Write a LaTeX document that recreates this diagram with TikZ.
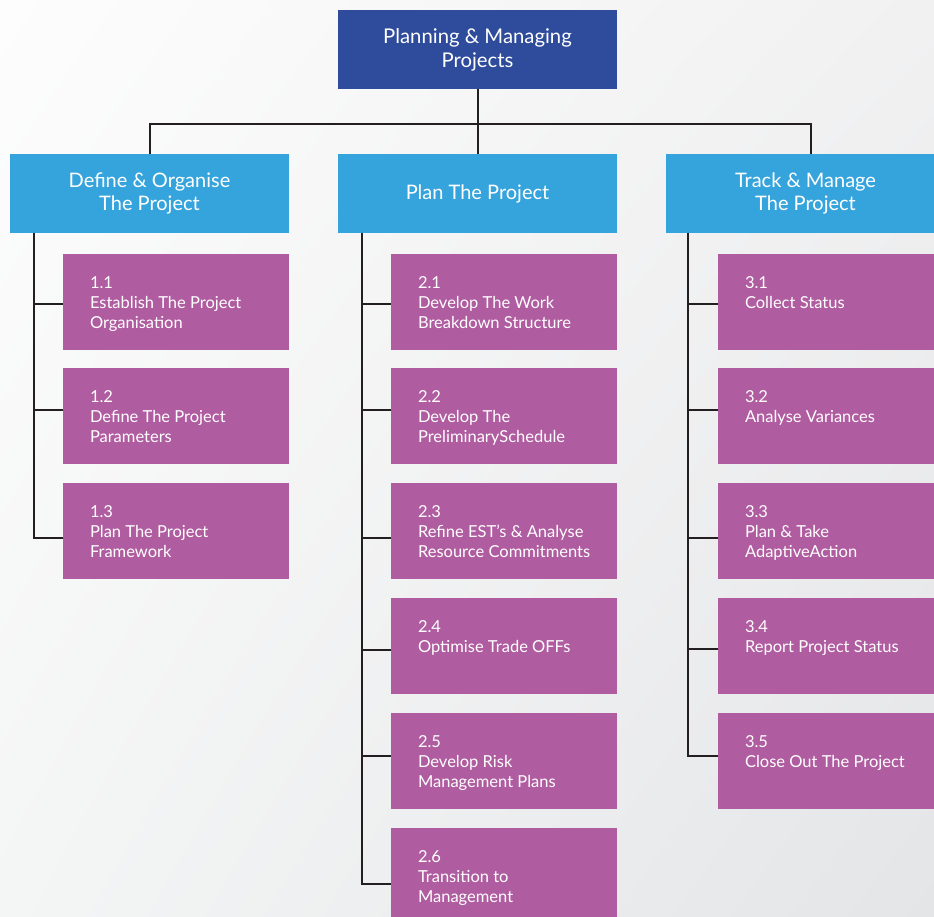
\documentclass[tikz,border=0pt]{standalone}
\usepackage{fontspec}
\setmainfont{Lato}
\usetikzlibrary{calc,shadings}
\definecolor{rootblue}{HTML}{2F4C9C}
\definecolor{phaseblue}{HTML}{36A4DC}
\definecolor{taskpurple}{HTML}{B05CA0}
\definecolor{wirecol}{HTML}{231F20}
\definecolor{bgul}{HTML}{FDFDFD}
\definecolor{bgur}{HTML}{F1F1F2}
\definecolor{bgll}{HTML}{F4F5F5}
\definecolor{bglr}{HTML}{E4E5E7}
\tikzset{
  rootbox/.style={fill=rootblue, text=white, inner sep=0, outer sep=0, anchor=north west,
    minimum width=279, minimum height=79, align=center, font=\fontsize{20.3}{24}\selectfont},
  phasebox/.style={fill=phaseblue, text=white, inner sep=0, outer sep=0, anchor=north west,
    minimum width=279, minimum height=79, align=center, font=\fontsize{20}{23}\selectfont},
  taskbox/.style={fill=taskpurple, inner sep=0, outer sep=0, anchor=north west,
    minimum width=226, minimum height=96},
  tasktext/.style={text=white, inner sep=0, outer sep=0, anchor=north west,
    align=left, font=\fontsize{16.5}{20}\selectfont},
  wire/.style={draw=wirecol, line width=2pt},
}
\begin{document}
\begin{tikzpicture}[x=1pt, y=-1pt]
  \useasboundingbox (0,0) rectangle (934,917);
  \clip (0,0) rectangle (934,917);
  % soft grey backdrop
  \shade[upper left=bgul, upper right=bgur, lower left=bgll, lower right=bglr]
    (0,0) rectangle (934,917);

  % top level
  \node[rootbox] (root) at (338,10) {Planning \& Managing\\Projects};

  % phases
  \node[phasebox] (pa) at (10,154) {Define \& Organise\\The Project};
  \node[phasebox] (pb) at (338,154) {Plan The Project};
  \node[phasebox] (pc) at (666,154) {Track \& Manage\\The Project};

  % phase 1 tasks
  \node[taskbox] (a1) at (63,254) {};
  \node[taskbox] (a2) at (63,368) {};
  \node[taskbox] (a3) at (63,483) {};
  % phase 2 tasks
  \node[taskbox] (b1) at (391,254) {};
  \node[taskbox] (b2) at (391,368) {};
  \node[taskbox] (b3) at (391,483) {};
  \node[taskbox] (b4) at (391,598) {};
  \node[taskbox] (b5) at (391,713) {};
  \node[taskbox] (b6) at (391,828) {};
  % phase 3 tasks
  \node[taskbox, minimum width=230] (c1) at (718,254) {};
  \node[taskbox, minimum width=230] (c2) at (718,368) {};
  \node[taskbox, minimum width=230] (c3) at (718,483) {};
  \node[taskbox, minimum width=230] (c4) at (718,598) {};
  \node[taskbox, minimum width=230] (c5) at (718,713) {};

  % task captions
  \node[tasktext] at ($(a1.north west)+(27,23)$) {1.1\\Establish The Project\\Organisation};
  \node[tasktext] at ($(a2.north west)+(27,23)$) {1.2\\Define The Project\\Parameters};
  \node[tasktext] at ($(a3.north west)+(27,23)$) {1.3\\Plan The Project\\Framework};
  \node[tasktext] at ($(b1.north west)+(27,23)$) {2.1\\Develop The Work\\Breakdown Structure};
  \node[tasktext] at ($(b2.north west)+(27,23)$) {2.2\\Develop The\\PreliminarySchedule};
  \node[tasktext] at ($(b3.north west)+(27,23)$) {2.3\\Refine EST’s \& Analyse\\Resource Commitments};
  \node[tasktext] at ($(b4.north west)+(27,23)$) {2.4\\Optimise Trade OFFs};
  \node[tasktext] at ($(b5.north west)+(27,23)$) {2.5\\Develop Risk\\Management Plans};
  \node[tasktext] at ($(b6.north west)+(27,23)$) {2.6\\Transition to\\Management};
  \node[tasktext] at ($(c1.north west)+(27,23)$) {3.1\\Collect Status};
  \node[tasktext] at ($(c2.north west)+(27,23)$) {3.2\\Analyse Variances};
  \node[tasktext] at ($(c3.north west)+(27,23)$) {3.3\\Plan \& Take\\AdaptiveAction};
  \node[tasktext] at ($(c4.north west)+(27,23)$) {3.4\\Report Project Status};
  \node[tasktext] at ($(c5.north west)+(27,23)$) {3.5\\Close Out The Project};

  % root to phases
  \coordinate (bus) at ($(root.south)+(0,35)$);
  \coordinate (pcin) at ($(pc.north west)+(145,0)$);
  \draw[wire] (root.south) -- (bus);
  \draw[wire] (pa.north) |- (bus) -| (pcin);
  \draw[wire] (bus) -- (pb.north);

  % phase spines
  \coordinate (sa) at ($(pa.south west)+(24,0)$);
  \coordinate (sb) at ($(pb.south west)+(24,0)$);
  \coordinate (sc) at ($(pc.south west)+(22,0)$);
  \draw[wire] (sa) |- ($(a1.north west)+(0,50)$);
  \draw[wire] (sa) |- ($(a2.north west)+(0,42)$);
  \draw[wire] (sa) |- ($(a3.north west)+(0,55)$);
  \draw[wire] (sb) |- ($(b1.north west)+(0,50)$);
  \draw[wire] (sb) |- ($(b2.north west)+(0,42)$);
  \draw[wire] (sb) |- ($(b3.north west)+(0,55)$);
  \draw[wire] (sb) |- ($(b4.north west)+(0,52)$);
  \draw[wire] (sb) |- ($(b5.north west)+(0,43)$);
  \draw[wire] (sb) |- ($(b6.north west)+(0,56)$);
  \draw[wire] (sc) |- ($(c1.north west)+(0,50)$);
  \draw[wire] (sc) |- ($(c2.north west)+(0,42)$);
  \draw[wire] (sc) |- ($(c3.north west)+(0,55)$);
  \draw[wire] (sc) |- ($(c4.north west)+(0,51)$);
  \draw[wire] (sc) |- ($(c5.north west)+(0,43)$);
\end{tikzpicture}
\end{document}
